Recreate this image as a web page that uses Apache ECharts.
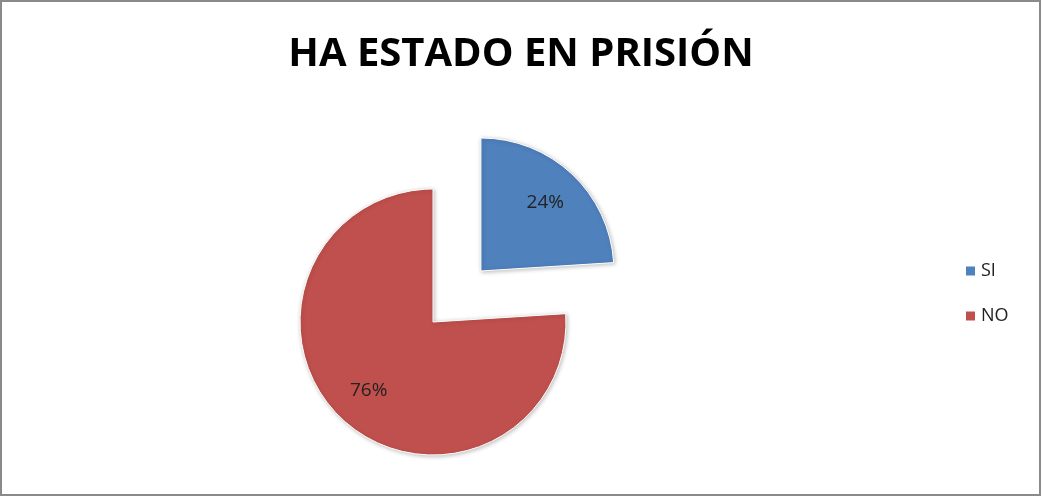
<!DOCTYPE html>
<html>
<head>
<meta charset="utf-8">
<script src="https://cdn.jsdelivr.net/npm/echarts@6/dist/echarts.min.js"></script>
<style>
html,body{margin:0;padding:0;background:#fff;}
#c{width:1042px;height:497px;}
</style>
</head>
<body>
<div id="c"></div>
<script>
const categories = ['SI', 'NO'];
const values = [24, 76];
const colors = ['#4F81BD', '#C0504D'];
const titleText = 'HA ESTADO EN PRISIÓN';

const chart = echarts.init(document.getElementById('c'));
const pieData = categories.map((name, i) => ({
  name: name,
  value: values[i],
  selected: i === 0,
  itemStyle: { color: colors[i] }
}));
const labelData = categories.map((name, i) => ({
  name: name,
  value: values[i],
  selected: i === 0
}));

chart.setOption({
  backgroundColor: '#ffffff',
  animation: false,
  title: {
    text: titleText,
    left: 'center',
    top: 30,
    textStyle: {
      fontFamily: 'Open Sans',
      fontWeight: 'bold',
      fontSize: 40,
      color: '#000'
    }
  },
  legend: {
    orient: 'vertical',
    left: 959,
    top: 257,
    icon: 'rect',
    itemWidth: 11,
    itemHeight: 11,
    itemGap: 27,
    data: categories,
    selectedMode: false,
    textStyle: { fontFamily: 'Open Sans', fontSize: 18, color: '#222' }
  },
  graphic: [{
    type: 'rect',
    shape: { x: 1, y: 1, width: 1039, height: 494 },
    style: { fill: 'none', stroke: '#8a8a8a', lineWidth: 2 },
    silent: true
  }],
  series: [{
    type: 'pie',
    center: [433, 322],
    radius: [0, 133],
    startAngle: 90,
    selectedMode: 'multiple',
    selectedOffset: 70,
    data: pieData,
    label: { show: false },
    labelLine: { show: false },
    itemStyle: {
      borderColor: '#ffffff',
      borderWidth: 1,
      shadowBlur: 4,
      shadowColor: 'rgba(0,0,0,0.25)',
      shadowOffsetX: 1,
      shadowOffsetY: 1
    },
    emphasis: { disabled: true },
    silent: true
  }, {
    type: 'pie',
    center: [433, 322],
    radius: [0, 182],
    startAngle: 90,
    selectedMode: 'multiple',
    selectedOffset: 70,
    data: labelData,
    itemStyle: { color: 'rgba(0,0,0,0)' },
    label: {
      show: true,
      position: 'inside',
      formatter: '{d}%',
      fontFamily: 'Open Sans',
      fontSize: 19,
      color: '#222'
    },
    labelLine: { show: false },
    emphasis: { disabled: true },
    silent: true,
    legendHoverLink: false
  }]
});
</script>
</body>
</html>
